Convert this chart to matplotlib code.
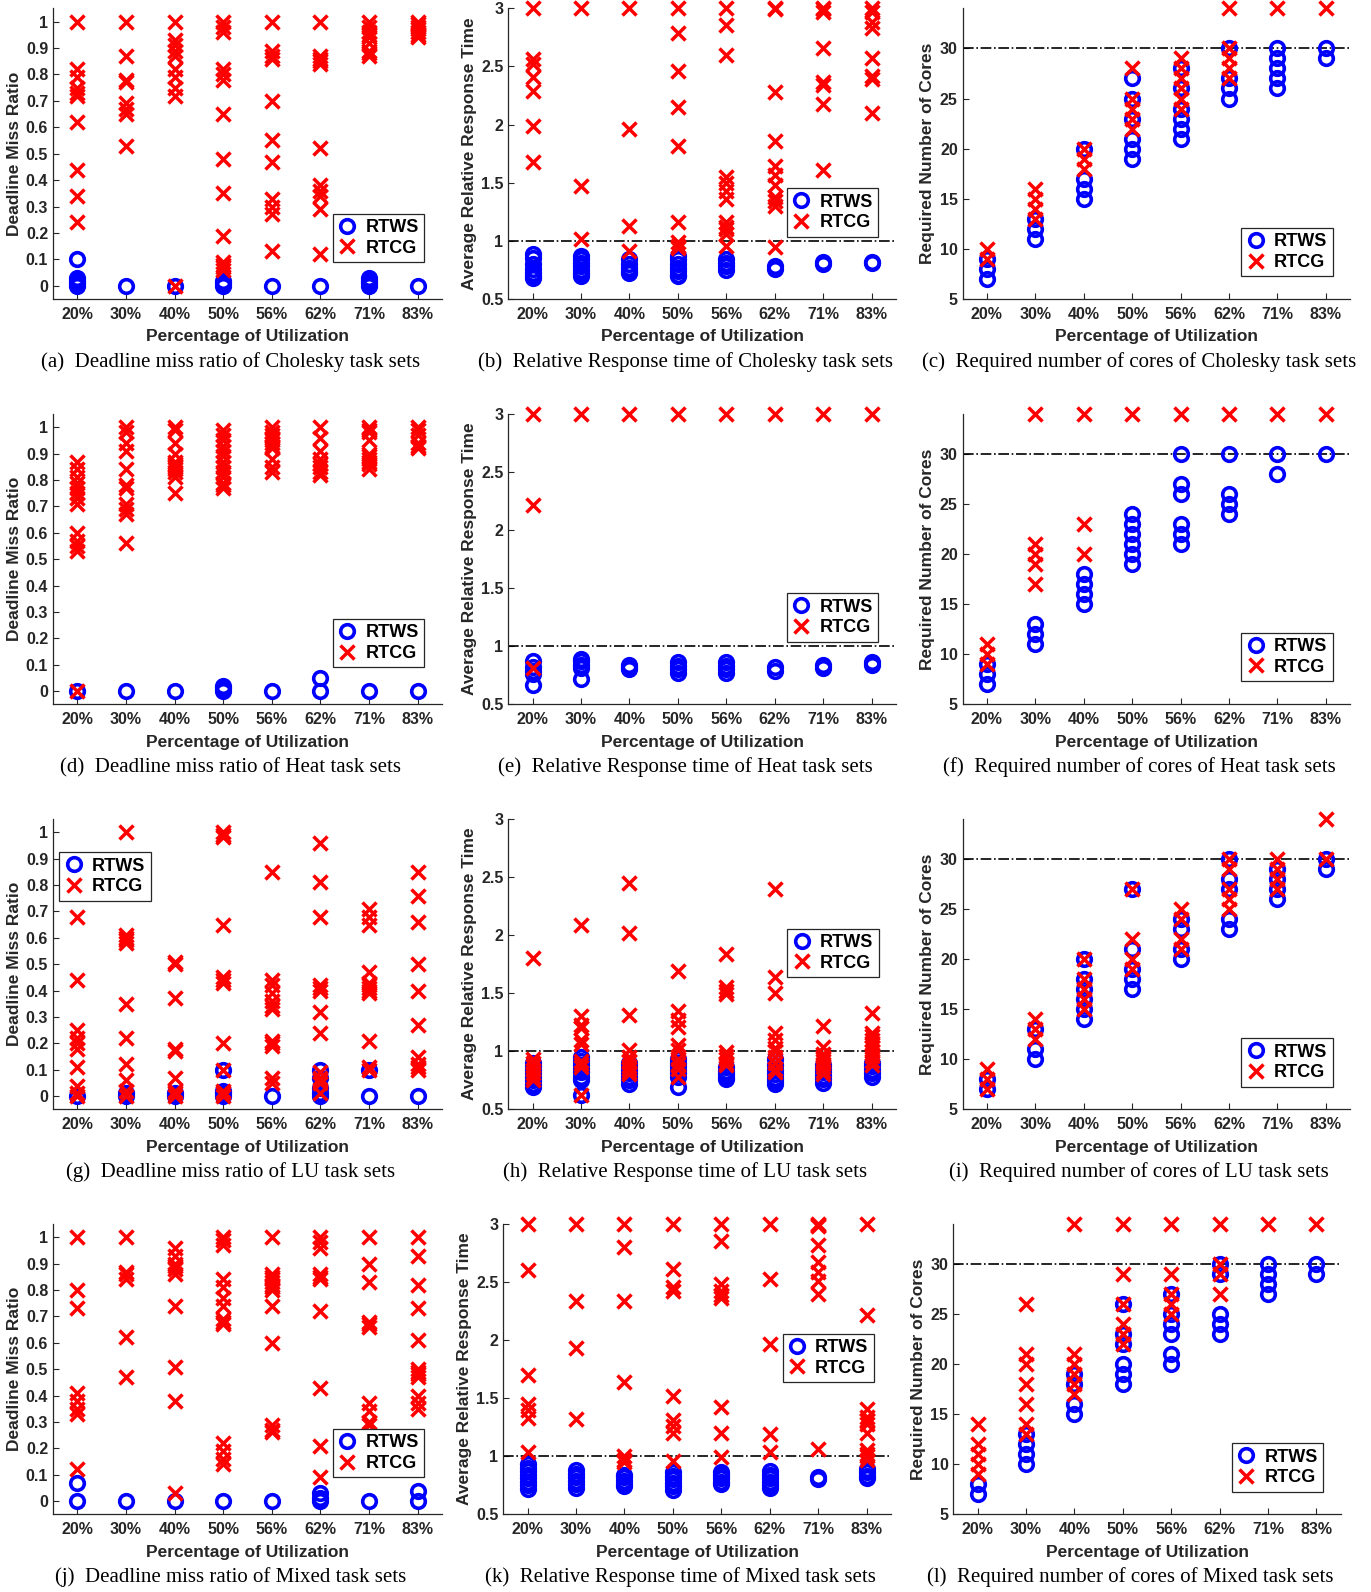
import matplotlib.pyplot as plt

# utilization levels shared by all panels
util = ['20%', '30%', '40%', '50%', '56%', '62%', '71%', '83%']

# ---- Cholesky ----
chol_miss_rtws = [[0.1, 0.03, 0.02, 0.01, 0], [0], [0], [0, 0.01, 0.02], [0], [0], [0, 0.01, 0.02, 0.03], [0]]
chol_miss_rtcg = [[1, 0.82, 0.79, 0.75, 0.73, 0.72, 0.62, 0.44, 0.34, 0.24],
                  [1, 0.87, 0.78, 0.77, 0.69, 0.67, 0.65, 0.53],
                  [1, 0.93, 0.91, 0.89, 0.87, 0.82, 0.79, 0.75, 0.72, 0],
                  [1, 0.98, 0.96, 0.82, 0.8, 0.78, 0.65, 0.48, 0.35, 0.19, 0.09, 0.08, 0.07, 0.06],
                  [1, 0.89, 0.87, 0.86, 0.7, 0.55, 0.47, 0.33, 0.3, 0.27, 0.13],
                  [1, 0.87, 0.86, 0.85, 0.84, 0.52, 0.38, 0.36, 0.34, 0.29, 0.12],
                  [1, 0.98, 0.96, 0.95, 0.94, 0.92, 0.89, 0.88, 0.87],
                  [1, 0.99, 0.98, 0.97, 0.96, 0.95, 0.94]]
chol_resp_rtws = [[0.89, 0.85, 0.8, 0.76, 0.72, 0.7, 0.68],
                  [0.87, 0.84, 0.81, 0.78, 0.75, 0.72, 0.7],
                  [0.84, 0.8, 0.77, 0.74, 0.72],
                  [0.87, 0.84, 0.8, 0.77, 0.74, 0.71, 0.7],
                  [0.84, 0.81, 0.78, 0.75],
                  [0.78, 0.76], [0.82, 0.8], [0.82, 0.81]]
chol_resp_rtcg = [[3, 2.56, 2.52, 2.41, 2.29, 1.99, 1.68],
                  [3, 1.47, 1.02],
                  [3, 1.96, 1.13, 0.91],
                  [3, 2.79, 2.46, 2.15, 1.82, 1.16, 0.99, 0.96, 0.94],
                  [3, 2.86, 2.6, 1.55, 1.5, 1.43, 1.36, 1.16, 1.12, 1.1, 1.06, 0.96],
                  [3, 2.99, 2.28, 1.86, 1.64, 1.57, 1.48, 1.38, 1.34, 1.3, 0.95],
                  [3, 2.99, 2.97, 2.66, 2.37, 2.34, 2.18, 1.61],
                  [3, 2.97, 2.88, 2.83, 2.57, 2.42, 2.39, 2.1]]
chol_core_rtws = [[7, 8, 9], [11, 12, 13], [15, 16, 17, 20], [19, 20, 21, 23, 25, 27],
                  [21, 22, 23, 24, 26, 28], [25, 26, 27, 30], [26, 27, 28, 29, 30], [29, 30]]
chol_core_rtcg = [[9, 10], [13, 14, 15, 16], [18, 19, 20], [22, 23, 24, 25, 28],
                  [24, 25, 26, 27, 28, 29], [27, 28, 29, 30, 34], [34], [34]]

# ---- Heat ----
heat_miss_rtws = [[0], [0], [0], [0, 0.01, 0.02], [0], [0, 0.05], [0], [0]]
heat_miss_rtcg = [[0.87, 0.84, 0.81, 0.79, 0.77, 0.75, 0.73, 0.71, 0.6, 0.57, 0.55, 0.53, 0],
                  [1, 0.98, 0.94, 0.91, 0.84, 0.78, 0.77, 0.71, 0.69, 0.67, 0.56],
                  [1, 0.99, 0.94, 0.9, 0.87, 0.86, 0.85, 0.84, 0.83, 0.81, 0.75],
                  [0.99, 0.97, 0.95, 0.93, 0.91, 0.89, 0.87, 0.85, 0.83, 0.81, 0.79, 0.78, 0.77],
                  [1, 0.98, 0.97, 0.96, 0.95, 0.94, 0.93, 0.92, 0.88, 0.85, 0.83],
                  [1, 0.96, 0.91, 0.88, 0.86, 0.85, 0.83, 0.82],
                  [1, 0.99, 0.98, 0.95, 0.9, 0.89, 0.88, 0.87, 0.86, 0.84],
                  [1, 0.99, 0.97, 0.94, 0.93, 0.92]]
heat_resp_rtws = [[0.67, 0.76, 0.79, 0.82, 0.87], [0.72, 0.81, 0.84, 0.87, 0.89], [0.8, 0.82, 0.84],
                  [0.77, 0.8, 0.83, 0.86], [0.77, 0.8, 0.83, 0.86], [0.79, 0.82], [0.81, 0.84], [0.84, 0.86]]
heat_resp_rtcg = [[3, 2.22, 0.81], [3], [3], [3], [3], [3], [3], [3]]
heat_core_rtws = [[7, 8, 9], [11, 12, 13], [15, 16, 17, 18], [19, 20, 21, 22, 23, 24],
                  [21, 22, 23, 26, 27, 30], [24, 25, 26, 30], [28, 30], [30]]
heat_core_rtcg = [[9, 10, 11], [17, 19, 20, 21, 34], [20, 23, 34], [34], [34], [34], [34], [34]]

# ---- LU ----
lu_miss_rtws = [[0], [0, 0.01], [0, 0.01], [0.1, 0.02, 0.01, 0], [0], [0.1, 0.07, 0.03, 0.01, 0], [0.1, 0], [0]]
lu_miss_rtcg = [[0.68, 0.44, 0.25, 0.22, 0.2, 0.18, 0.11, 0.04, 0.01, 0],
                [1, 0.61, 0.6, 0.59, 0.58, 0.35, 0.22, 0.12, 0.06, 0.02, 0],
                [0.51, 0.5, 0.37, 0.18, 0.17, 0.07, 0.02, 0.01, 0],
                [1, 0.99, 0.98, 0.65, 0.45, 0.44, 0.43, 0.2, 0.1, 0.02, 0.01, 0],
                [0.85, 0.44, 0.42, 0.39, 0.36, 0.34, 0.33, 0.21, 0.2, 0.19, 0.07, 0.05],
                [0.96, 0.81, 0.68, 0.42, 0.41, 0.4, 0.32, 0.24, 0.09, 0.07, 0.06, 0.05, 0.01],
                [0.71, 0.68, 0.65, 0.47, 0.43, 0.42, 0.41, 0.4, 0.39, 0.21, 0.11, 0.1],
                [0.85, 0.76, 0.66, 0.5, 0.4, 0.27, 0.15, 0.12, 0.11, 0.1]]
lu_resp_rtws = [[0.9, 0.87, 0.84, 0.81, 0.78, 0.75, 0.72, 0.69],
                [0.95, 0.92, 0.88, 0.85, 0.82, 0.78, 0.75, 0.62],
                [0.9, 0.87, 0.84, 0.81, 0.78, 0.75, 0.72],
                [0.93, 0.9, 0.87, 0.84, 0.81, 0.78, 0.69],
                [0.86, 0.83, 0.8, 0.78, 0.76],
                [0.93, 0.88, 0.84, 0.8, 0.77, 0.74, 0.72],
                [0.88, 0.85, 0.82, 0.79, 0.76, 0.73],
                [0.9, 0.87, 0.84, 0.81, 0.78]]
lu_resp_rtcg = [[1.8, 0.93, 0.9, 0.87, 0.84, 0.81, 0.78, 0.75],
                [2.09, 1.3, 1.23, 1.2, 1.1, 1.06, 0.92, 0.89, 0.86, 0.62],
                [2.45, 2.02, 1.31, 1.01, 0.95, 0.92, 0.87, 0.85, 0.82, 0.8],
                [1.69, 1.35, 1.27, 1.21, 1.05, 1.01, 0.93, 0.89, 0.85, 0.78],
                [1.84, 1.55, 1.52, 1.49, 0.99, 0.96, 0.93, 0.9, 0.88],
                [2.4, 1.64, 1.5, 1.16, 1.1, 1.03, 1.0, 0.95, 0.9, 0.85, 0.82],
                [1.22, 1.04, 0.98, 0.95, 0.92, 0.89, 0.86, 0.83, 0.8],
                [1.33, 1.16, 1.13, 1.1, 1.07, 1.04, 1.0, 0.96, 0.92, 0.88]]
lu_core_rtws = [[7, 8], [10, 11, 13], [14, 15, 16, 17, 18, 20], [17, 18, 19, 21, 27],
                [20, 21, 23, 24], [23, 24, 27, 28, 30], [26, 27, 28, 29], [29, 30]]
lu_core_rtcg = [[7, 8, 9], [12, 13, 14], [15, 16, 17, 18, 20], [19, 20, 22, 27],
                [21, 22, 24, 25], [25, 26, 27, 29, 30], [27, 28, 29, 30], [30, 34]]

# ---- Mixed ----
mix_miss_rtws = [[0.07, 0], [0], [0], [0], [0], [0.03, 0.01, 0], [0], [0.04, 0]]
mix_miss_rtcg = [[1, 0.8, 0.73, 0.41, 0.38, 0.35, 0.33, 0.12],
                 [1, 0.87, 0.86, 0.84, 0.62, 0.47],
                 [0.96, 0.93, 0.9, 0.89, 0.88, 0.86, 0.74, 0.51, 0.38, 0.03],
                 [1, 0.99, 0.97, 0.84, 0.81, 0.77, 0.74, 0.69, 0.68, 0.67, 0.22, 0.19, 0.16, 0.14],
                 [1, 0.86, 0.85, 0.84, 0.83, 0.82, 0.81, 0.8, 0.74, 0.6, 0.29, 0.27, 0.26],
                 [1, 0.98, 0.96, 0.86, 0.85, 0.84, 0.72, 0.43, 0.21, 0.09],
                 [1, 0.9, 0.83, 0.68, 0.67, 0.66, 0.37, 0.34, 0.3, 0.29],
                 [1, 0.93, 0.82, 0.73, 0.61, 0.5, 0.49, 0.48, 0.47, 0.4, 0.37, 0.35]]
mix_resp_rtws = [[0.93, 0.9, 0.87, 0.84, 0.81, 0.78, 0.75, 0.72],
                 [0.88, 0.85, 0.82, 0.79, 0.76, 0.73],
                 [0.84, 0.82, 0.79, 0.76, 0.74],
                 [0.86, 0.83, 0.8, 0.77, 0.74, 0.71],
                 [0.86, 0.84, 0.81, 0.78, 0.76],
                 [0.87, 0.84, 0.81, 0.78, 0.75, 0.73],
                 [0.82, 0.8],
                 [0.89, 0.86, 0.83, 0.81]]
mix_resp_rtcg = [[3, 2.6, 1.7, 1.45, 1.4, 1.33, 1.04],
                 [3, 2.34, 1.93, 1.32],
                 [3, 2.8, 2.34, 1.64, 1.0, 0.97, 0.95],
                 [3, 2.61, 2.46, 2.42, 1.52, 1.31, 1.26, 1.2, 0.96],
                 [3, 2.85, 2.48, 2.42, 2.39, 2.36, 1.42, 1.2, 0.99],
                 [3, 2.53, 1.97, 1.19, 1.04],
                 [3, 2.99, 2.98, 2.82, 2.67, 2.59, 2.51, 2.4, 1.06],
                 [3, 2.22, 1.41, 1.34, 1.31, 1.28, 1.2, 1.05, 1.02, 1.0, 0.97]]
mix_core_rtws = [[7, 8], [10, 11, 12, 13], [15, 16, 18, 19], [18, 19, 20, 22, 23, 26],
                 [20, 21, 23, 24, 25, 27], [23, 24, 25, 29, 30], [27, 28, 29, 30], [29, 30]]
mix_core_rtcg = [[9, 10, 11, 12, 14], [13, 14, 16, 18, 20, 21, 26], [17, 18, 19, 20, 21, 34],
                 [22, 23, 24, 26, 29, 34], [25, 26, 27, 29, 34], [27, 29, 30, 34], [34], [34]]

W, H = 1371, 1592
fig = plt.figure(figsize=(W / 100, H / 100), dpi=100)

sans = 'Liberation Sans'
serif = 'Liberation Serif'

row_tb = [(8.3, 299), (414, 704.3), (819, 1109.3), (1224, 1514.3)]
col_lr = [[(53, 442), (508.3, 896), (962.7, 1350)]] * 3 + [[(53, 442), (503.3, 891), (953.3, 1340.7)]]
ylab_off = [-38, -39, -35]

kinds = {
    'miss': dict(ylabel='Deadline Miss Ratio', ylim=(-0.05, 1.05),
                 ticks=[0, 0.1, 0.2, 0.3, 0.4, 0.5, 0.6, 0.7, 0.8, 0.9, 1],
                 labels=['0', '0.1', '0.2', '0.3', '0.4', '0.5', '0.6', '0.7', '0.8', '0.9', '1'], ref=None),
    'resp': dict(ylabel='Average Relative Response Time', ylim=(0.5, 3),
                 ticks=[0.5, 1, 1.5, 2, 2.5, 3], labels=['0.5', '1', '1.5', '2', '2.5', '3'], ref=1),
    'core': dict(ylabel='Required Number of Cores', ylim=(5, 34),
                 ticks=[5, 10, 15, 20, 25, 30], labels=['5', '10', '15', '20', '25', '30'], ref=30),
}

panels = [
    (chol_miss_rtws, chol_miss_rtcg, 'miss', ('lower right', (0.954, 0.127)), '(a)  Deadline miss ratio of Cholesky task sets'),
    (chol_resp_rtws, chol_resp_rtcg, 'resp', ('lower right', (0.954, 0.214)), '(b)  Relative Response time of Cholesky task sets'),
    (chol_core_rtws, chol_core_rtcg, 'core', ('lower right', (0.955, 0.078)), '(c)  Required number of cores of Cholesky task sets'),
    (heat_miss_rtws, heat_miss_rtcg, 'miss', ('lower right', (0.954, 0.127)), '(d)  Deadline miss ratio of Heat task sets'),
    (heat_resp_rtws, heat_resp_rtcg, 'resp', ('lower right', (0.954, 0.216)), '(e)  Relative Response time of Heat task sets'),
    (heat_core_rtws, heat_core_rtcg, 'core', ('lower right', (0.955, 0.080)), '(f)  Required number of cores of Heat task sets'),
    (lu_miss_rtws, lu_miss_rtcg, 'miss', ('upper left', (0.016, 0.885)), '(g)  Deadline miss ratio of LU task sets'),
    (lu_resp_rtws, lu_resp_rtcg, 'resp', ('lower right', (0.955, 0.455)), '(h)  Relative Response time of LU task sets'),
    (lu_core_rtws, lu_core_rtcg, 'core', ('lower right', (0.955, 0.078)), '(i)  Required number of cores of LU task sets'),
    (mix_miss_rtws, mix_miss_rtcg, 'miss', ('lower right', (0.954, 0.127)), '(j)  Deadline miss ratio of Mixed task sets'),
    (mix_resp_rtws, mix_resp_rtcg, 'resp', ('lower right', (0.956, 0.455)), '(k)  Relative Response time of Mixed task sets'),
    (mix_core_rtws, mix_core_rtcg, 'core', ('lower right', (0.955, 0.078)), '(l)  Required number of cores of Mixed task sets'),
]


def flatten(groups):
    xs, ys = [], []
    for i, vals in enumerate(groups):
        xs += [i] * len(vals)
        ys += list(vals)
    return xs, ys


for n, (rtws, rtcg, kind, leg, caption) in enumerate(panels):
    r, c = divmod(n, 3)
    top, bot = row_tb[r]
    left, right = col_lr[r][c]
    ax = fig.add_axes([left / W, 1 - bot / H, (right - left) / W, (bot - top) / H])
    k = kinds[kind]
    aw = right - left
    ah = bot - top

    x1, y1 = flatten(rtws)
    x2, y2 = flatten(rtcg)
    ax.plot(x1, y1, 'o', ls='none', mfc='none', mec=(0, 0, 1), ms=9.8, mew=2.6,
            label='RTWS', clip_on=False, zorder=3)
    ax.plot(x2, y2, 'x', ls='none', color=(1, 0, 0), ms=9.8, mew=2.5,
            label='RTCG', clip_on=False, zorder=4)
    if k['ref'] is not None:
        ax.axhline(k['ref'], color='k', ls='-.', lw=1.2, zorder=2)

    ax.set_xlim(-0.5, len(util) - 0.5)
    ax.set_ylim(*k['ylim'])
    ax.set_xticks(range(len(util)))
    ax.set_xticklabels(util)
    ax.set_yticks(k['ticks'])
    ax.set_yticklabels(k['labels'])
    for t in ax.get_xticklabels() + ax.get_yticklabels():
        t.set_fontfamily(sans)
        t.set_fontweight('bold')
        t.set_fontsize(11.5)
        t.set_color('0.15')
    ax.tick_params(axis='both', direction='in', length=4, width=0.8, color='0.15')
    ax.tick_params(axis='x', pad=5.5)
    ax.tick_params(axis='y', pad=3.5)
    for s in ['top', 'right']:
        ax.spines[s].set_visible(False)
    for s in ['left', 'bottom']:
        ax.spines[s].set_color('0.15')
        ax.spines[s].set_linewidth(0.9)

    ax.set_xlabel('Percentage of Utilization', fontfamily=sans, fontweight='bold',
                  fontsize=12.5, color='0.15', va='center')
    ax.xaxis.set_label_coords(0.5, -38 / ah)
    ax.set_ylabel(k['ylabel'], fontfamily=sans, fontweight='bold', fontsize=12.5,
                  color='0.15', va='center')
    ax.yaxis.set_label_coords(ylab_off[c] / aw, 0.5)

    ax.text(0.5 - 17 / aw, -63 / ah, caption, transform=ax.transAxes, ha='center',
            va='center', fontfamily=serif, fontsize=15)

    lg = ax.legend(loc=leg[0], bbox_to_anchor=leg[1], borderaxespad=0, fancybox=False,
                   framealpha=1, edgecolor='0.15', handlelength=1.0, handletextpad=0.5,
                   borderpad=0.3, labelspacing=0.2,
                   prop={'family': sans, 'weight': 'bold', 'size': 13})
    lg.get_frame().set_linewidth(0.9)

fig.savefig('out.png', dpi=100)
